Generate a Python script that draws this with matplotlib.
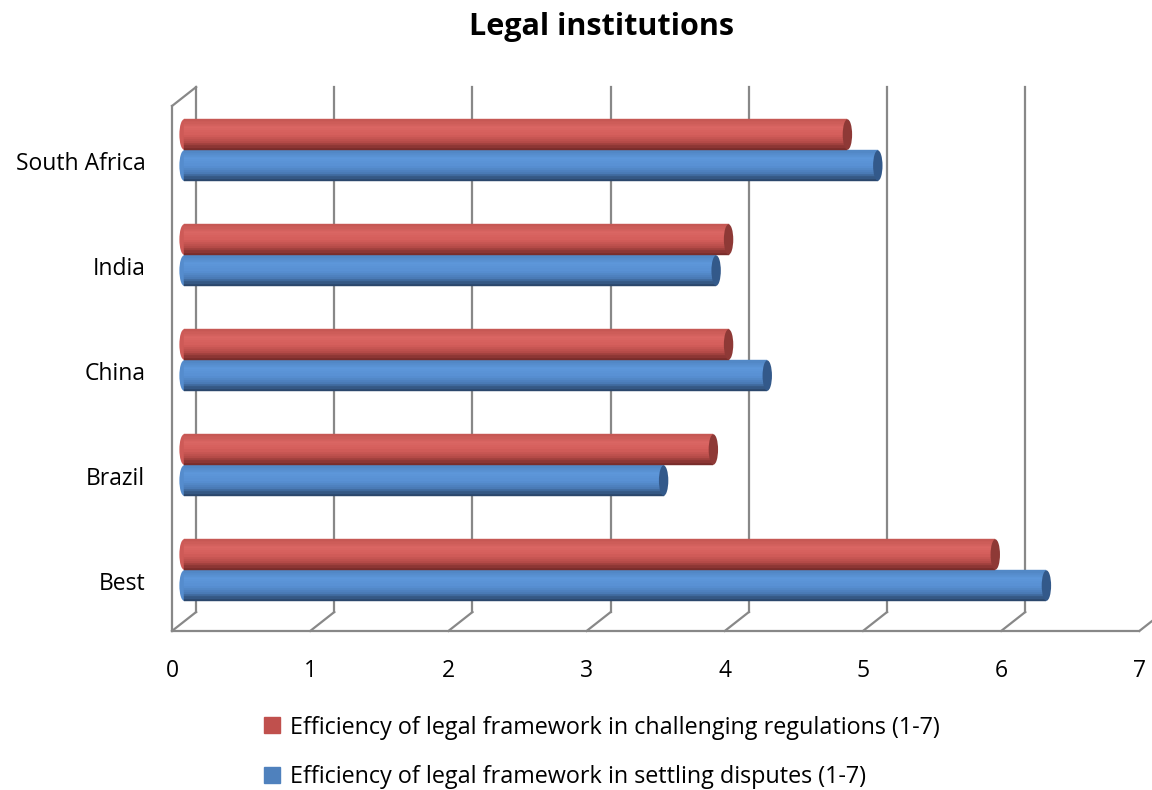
import matplotlib
matplotlib.use('Agg')
import matplotlib.pyplot as plt
import numpy as np
from matplotlib.colors import LinearSegmentedColormap
from matplotlib.patches import Ellipse
from matplotlib.lines import Line2D

plt.rcParams['font.family'] = ['Open Sans', 'DejaVu Sans']

categories = ['Best', 'Brazil', 'China', 'India', 'South Africa']
challenging = [5.87, 3.83, 3.94, 3.94, 4.80]
settling = [6.24, 3.47, 4.22, 3.85, 5.02]
series_names = ['Efficiency of legal framework in challenging regulations (1-7)',
                'Efficiency of legal framework in settling disputes (1-7)']
x_ticks = [0, 1, 2, 3, 4, 5, 6, 7]

GRID = '#888888'
RED_STOPS = ['#6E2826', '#B44A47', '#D45E5B', '#DA6663', '#C35652']
BLUE_STOPS = ['#263F60', '#4A7AB5', '#5890D3', '#5D97DA', '#5085C3']
RED_CAP, BLUE_CAP = '#8E3936', '#33598A'

# 3d offsets (depth) in data units
DX, YB, YF, YTOP = 0.087, -0.40, -0.58, 4.60
BAR_H, OFF = 0.29, 0.148
CAP_W = 0.068
N_STRIPS = 14

fig = plt.figure(figsize=(11.52, 7.90), dpi=100)
ax = fig.add_axes([0.1418, 0.1854, 0.8817, 0.7177])
ax.set_xlim(-0.15, 7.2)
ax.set_ylim(-0.7, 4.7)
for s in ax.spines.values():
    s.set_visible(False)
ax.patch.set_alpha(0)

# walls / grid
for k in x_ticks:
    ax.plot([k + DX, k + DX], [YB, YTOP], color=GRID, lw=1.6, zorder=1, clip_on=False)
    ax.plot([k + DX, k - DX], [YB, YF], color=GRID, lw=1.6, zorder=1, clip_on=False)
ax.plot([-DX, x_ticks[-1] - DX], [YF, YF], color=GRID, lw=1.6, zorder=1, clip_on=False)
ax.plot([-DX, -DX], [YF, 4.42], color=GRID, lw=1.6, zorder=1)
ax.plot([-DX, DX], [4.42, YTOP], color=GRID, lw=1.6, zorder=1)

y = np.arange(len(categories))


def cylinder(vals, ypos, stops, cap):
    cmap = LinearSegmentedColormap.from_list('c', stops)
    hs = BAR_H / N_STRIPS
    for yy, v in zip(ypos, vals):
        ax.add_patch(Ellipse((0, yy), CAP_W, BAR_H, color=cmap(0.45), zorder=2, lw=0))
    for i in range(N_STRIPS):
        t = (i + 0.5) / N_STRIPS
        c = cmap(t)
        ax.barh(ypos - BAR_H / 2 + hs * (i + 0.5), vals, height=hs, color=c,
                edgecolor=c, linewidth=0.3, zorder=3)
    for yy, v in zip(ypos, vals):
        ax.add_patch(Ellipse((v, yy), CAP_W, BAR_H, color=cap, zorder=4, lw=0))


# draw blue (lower) first then red above
cylinder(settling, y - OFF, BLUE_STOPS, BLUE_CAP)
cylinder(challenging, y + OFF, RED_STOPS, RED_CAP)

ax.set_yticks(y - 0.1)
ax.set_yticklabels(categories, fontsize=16.5)
ax.set_xticks([k - DX for k in x_ticks])
ax.set_xticklabels([str(k) for k in x_ticks], fontsize=16.5)
ax.tick_params(length=0)
ax.tick_params(axis='y', pad=13)
ax.tick_params(axis='x', pad=11)

fig.text(0.522, 0.966, 'Legal institutions', ha='center', va='center',
         fontsize=22, fontweight='bold')

handles = [Line2D([], [], marker='s', ls='', markersize=11, color='#C0504D'),
           Line2D([], [], marker='s', ls='', markersize=11, color='#4F81BD')]
fig.legend(handles, series_names, loc='upper left', bbox_to_anchor=(0.219, 0.109),
           frameon=False, fontsize=16.8, handlelength=0.7, handletextpad=0.4,
           labelspacing=1.1, borderpad=0)

fig.savefig('out.png', dpi=100)
